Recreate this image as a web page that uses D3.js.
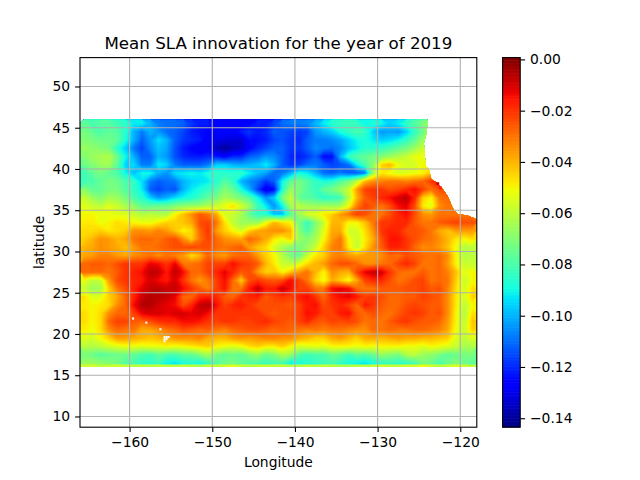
<!DOCTYPE html>
<html><head><meta charset="utf-8"><script src="https://cdnjs.cloudflare.com/ajax/libs/d3/7.8.5/d3.min.js"></script>
<style>html,body{margin:0;padding:0;background:#fff}svg{display:block}text{font-family:"DejaVu Sans",sans-serif;fill:#000}</style></head><body>
<svg id="c" width="640" height="480"></svg>
<script>
const titleText = "Mean SLA innovation for the year of 2019";
const xLabel = "Longitude", yLabel = "latitude";
const xTicks = [-160,-150,-140,-130,-120];
const yTicks = [10,15,20,25,30,35,40,45,50];
const cbTicks = [0,-0.02,-0.04,-0.06,-0.08,-0.10,-0.12,-0.14];
const lonRange = [-166,-118], latRange = [8.7,53.5];
const latTop = 46;
// rows from 45.5N to 16.5N, columns from 165.5W to 118.5W; units of -0.001
const slaRows = [
[76,80,78,78,82,85, 92,92,100,108,110,110,112,118,122,122, 126,128,128,128,126,122,122,116,110,108, 108,106,100,92,86,84,82,84,90,88, 90,96,92,84,78,72,58,58,58,58, 58,58],
[72,76,80,76,78,86, 100,108,100,104,110,112,116,122,124,126, 128,126,128,122,118,122,120,112,114,116, 118,116,104,100,96,88,84,80,84,96, 104,102,104,96,84,74,58,55,55,55, 55,55],
[70,72,74,74,76,88, 100,112,104,94,100,112,118,120,122,128, 130,132,132,134,124,124,122,116,114,118, 120,112,108,108,106,102,96,90,88,92, 96,94,90,84,76,66,54,52,52,52, 52,52],
[66,68,70,72,86,96, 108,116,106,98,102,114,122,126,130,128, 136,140,136,134,126,120,116,112,112,118, 118,112,106,108,110,106,98,92,86,86, 84,80,76,72,66,58,50,50,50,50, 50,50],
[70,66,64,62,74,90, 100,112,112,100,104,114,120,122,122,120, 122,126,120,120,112,110,104,106,112,120, 122,118,112,124,124,100,84,78,76,72, 70,66,62,58,52,52,50,50,50,50, 50,50],
[74,70,66,64,76,96, 94,108,108,92,96,108,112,112,112,108, 96,96,100,102,100,98,92,100,112,118, 116,110,108,112,116,114,110,92,80,68, 44,40,52,56,56,50,48,50,50,50, 50,50],
[82,76,72,76,80,90, 98,90,90,100,104,94,92,90,92,88, 84,86,86,84,92,98,102,110,108,100, 88,92,100,110,112,108,112,112,108,64, 48,52,56,54,52,50,42,38,38,38, 38,38],
[82,80,76,72,74,80, 84,94,108,112,110,108,100,96,94,92, 86,78,84,100,106,110,118,112,90,76, 72,78,84,88,86,78,72,60,40,34, 32,30,30,32,30,28,20,14,24,24, 24,24],
[68,76,76,72,72,78, 84,92,112,116,112,114,100,92,88,84, 80,70,76,88,100,116,130,124,86,66, 72,78,84,76,72,66,58,36,22,20, 20,24,22,18,14,22,30,24,24,24, 24,24],
[58,66,70,64,66,72, 80,86,96,104,100,94,90,88,82,76, 72,64,68,72,78,90,104,96,72,58, 76,78,80,86,84,82,62,40,26,22, 18,14,10,7,18,44,50,30,28,28, 28,28],
[54,58,60,54,58,64, 68,76,76,74,74,70,68,66,66,62, 58,52,46,56,66,82,92,104,90,64, 60,64,66,64,66,64,52,32,22,26, 30,24,14,12,24,48,54,34,30,30, 30,30],
[50,50,52,52,54,54, 58,62,60,62,62,50,42,34,26,30, 38,56,58,64,76,84,86,98,98,78, 66,56,54,48,44,36,30,22,24,30, 30,24,18,14,24,34,36,30,30,30, 30,30],
[48,48,52,50,46,48, 50,52,52,48,44,44,42,38,24,22, 30,46,60,66,66,66,52,40,46,50, 72,84,70,58,40,40,50,50,42,30, 20,20,18,18,26,30,30,26,24,22, 24,24],
[46,46,44,48,46,44, 34,34,36,32,36,42,50,46,28,20, 36,44,50,56,44,38,36,34,34,40, 70,80,68,54,38,38,56,56,46,34, 20,17,18,24,24,26,30,38,42,36, 36,36],
[44,40,34,36,40,38, 30,28,28,30,26,24,34,44,30,22, 28,34,36,38,28,32,38,48,52,44, 66,70,64,50,36,30,50,58,48,38, 24,15,15,20,24,28,30,34,40,48, 50,46],
[40,38,34,36,38,42, 36,30,30,28,26,24,24,22,24,24, 28,30,28,26,36,42,46,56,64,70, 72,66,58,44,32,30,48,60,46,34, 26,17,17,20,28,34,32,36,42,52, 62,60],
[38,36,32,32,36,38, 34,32,30,34,30,32,36,46,40,28, 34,36,30,28,28,36,44,50,62,72, 76,58,48,44,34,32,36,38,36,36, 34,28,30,24,26,28,30,28,34,50, 62,60],
[28,26,26,28,24,20, 20,20,12,14,20,12,30,30,28,22, 22,22,14,20,22,26,40,48,58,60, 54,46,40,36,28,24,24,28,34,34, 30,28,22,18,22,30,30,28,36,50, 58,58],
[28,28,28,30,26,20, 17,14,7,8,16,8,14,28,28,22, 18,12,18,26,24,36,44,42,50,42, 36,30,40,50,34,38,40,22,12,8, 10,20,28,30,30,26,30,28,32,42, 54,50],
[52,60,58,36,24,20, 18,16,10,14,16,10,20,30,36,30, 22,14,28,44,24,20,24,26,24,14, 22,30,44,52,38,44,52,38,22,18, 18,24,30,28,24,22,30,28,30,44, 58,50],
[58,66,64,44,30,24, 17,12,8,7,9,8,14,20,26,32, 22,15,30,30,16,8,16,16,8,14, 22,22,30,30,14,12,14,28,30,30, 26,26,26,24,24,22,26,24,32,46, 56,46],
[46,54,54,44,38,28, 18,9,6,7,8,12,28,28,18,16, 18,26,28,20,18,17,26,22,20,22, 17,14,20,28,18,14,12,16,22,20, 24,28,28,26,26,22,24,26,34,48, 56,44],
[48,50,48,46,34,28, 14,6,6,10,12,14,24,18,8,6, 14,22,18,16,20,24,24,24,24,26, 22,16,14,24,20,18,22,28,16,20, 26,28,28,24,22,24,26,26,34,48, 60,50],
[46,50,46,34,28,28, 22,12,10,10,12,10,10,12,10,14, 20,20,20,20,20,20,24,26,24,24, 22,14,16,22,22,16,14,26,28,24, 28,30,26,22,20,22,26,24,34,50, 62,46],
[46,50,46,28,22,22, 26,28,24,20,18,18,14,14,16,20, 22,20,20,22,22,20,18,22,24,26, 22,18,24,26,22,24,22,24,30,28, 30,26,22,20,24,26,26,28,36,50, 60,42],
[48,52,46,34,28,30, 30,38,38,34,30,28,24,26,28,26, 30,32,28,26,24,24,26,28,26,28, 30,32,30,32,30,30,32,34,34,28, 30,28,30,30,28,28,30,32,38,52, 58,44],
[54,56,50,44,36,36, 38,40,42,40,38,34,34,34,32,38, 40,40,36,34,36,34,32,32,34,34, 38,40,44,44,38,36,40,44,38,38, 40,38,36,38,38,40,40,42,44,54, 60,54],
[60,62,60,56,54,52, 52,54,52,52,50,52,50,48,46,44, 50,52,54,52,46,44,48,48,44,50, 56,54,52,54,50,50,50,52,50,52, 50,50,50,52,52,54,50,52,54,58, 64,62],
[72,74,78,76,74,74, 76,80,82,76,80,80,76,76,70,64, 72,76,74,76,70,66,74,70,62,66, 78,82,80,80,74,76,82,76,78,74, 66,70,72,62,60,66,68,72,76,74, 72,72],
[66,66,68,70,72,78, 80,84,84,82,90,92,88,86,88,82, 78,74,72,76,78,80,82,80,80,90, 88,86,84,82,80,84,88,90,92,88, 84,82,84,84,80,72,74,80,74,70, 74,76]
];
const southEdge = [58,56,60,58,56,58,60,58,60,58,60,60,58,60,62,58,58,56,54,58,60,58,58,58,58,60,60,58,60,58,60,62,62,60,60,58,56,58,58,56,56,52,56,60,58,54,58,60];
const coastLon = [-124,-123.95,-124.1,-124.4,-124.3,-124.2,-123.8,-123.5,-122.7,-122.1,-121.5,-120.9,-120.3,-119.2,-118];
const coastLat = [46,45.8,44.3,43.1,41.9,40.3,40,38.75,38.25,37.5,36.7,35.2,34.5,34.4,33.9];
const holeLon = [-159.7,-158.1,-156.4,-155.9,-155.65,-155.4,-155.9,-155.65,-155.9];
const holeLat = [22,21.5,20.7,19.75,19.75,19.75,19.5,19.5,19.25];
const spotLon = [-122.9,-122.6];
const spotLat = [38.4,37.9];
const spotVal = [-0.008,-0.016];

const svg = d3.select("#c");
const L=80,R=476.8,T=57.6,B=427.2, CL=502.6,CR=520.2;
const x = d3.scaleLinear().domain(lonRange).range([L,R]);
const y = d3.scaleLinear().domain(latRange).range([B,T]);
const vMin=-0.1435, vMax=0.0007;
const norm = d3.scaleLinear().domain([vMin,vMax]).range([0,1]).clamp(true);
const chR = d3.scaleLinear().domain([0,.35,.66,.89,1]).range([0,0,255,255,127.5]);
const chG = d3.scaleLinear().domain([0,.125,.375,.64,.91,1]).range([0,0,255,255,0,0]);
const chB = d3.scaleLinear().domain([0,.11,.34,.65,1]).range([127.5,255,255,0,0]);
const jet = v => { const t=norm(v); return `rgb(${Math.round(chR(t))},${Math.round(chG(t))},${Math.round(chB(t))})`; };

const nRows=slaRows.length,nCols=slaRows[0].length;
const flat = slaRows.flat().map(d=>d/-1000);
const step=0.001;
const thresholds=d3.range(vMin,vMax,step);
const contours=d3.contours().size([nCols,nRows]).smooth(true).thresholds(thresholds)(flat);
const path=d3.geoPath(d3.geoTransform({point(a,b){this.stream.point(x(lonRange[0]+a),y(latTop-b));}}));

const coast=coastLon.map((d,i)=>[d,coastLat[i]]);
const maskPts=[[lonRange[0],latTop],...coast,[lonRange[1],16],[lonRange[0],16]];
const line=d3.line().x(d=>x(d[0])).y(d=>y(d[1]));
svg.append("clipPath").attr("id","m").append("path").attr("d",line(maskPts)+"Z");

const g=svg.append("g").attr("clip-path","url(#m)");
g.selectAll("path").data(contours).join("path").attr("d",path).attr("fill",d=>jet(d.value+step/2));
svg.append("g").selectAll("rect").data(southEdge).join("rect")
  .attr("x",(d,i)=>x(lonRange[0]+i)).attr("y",y(16.3)).attr("width",x(-165)-x(-166)+0.3).attr("height",y(16)-y(16.3)).attr("fill",d=>jet(d/-1000));
svg.append("g").selectAll("rect").data(spotLon).join("rect")
  .attr("x",d=>x(d)).attr("y",(d,i)=>y(spotLat[i])).attr("width",x(-165.65)-x(-166)).attr("height",y(0)-y(0.35)).attr("fill",(d,i)=>jet(spotVal[i]));
svg.append("g").selectAll("rect").data(holeLon).join("rect")
  .attr("x",d=>x(d)).attr("y",(d,i)=>y(holeLat[i])).attr("width",x(-165.75)-x(-166)).attr("height",y(0)-y(0.25)).attr("fill","#fff");

const fs="13.89px";
const gridC="#b0b0b0";
svg.append("g").selectAll("line").data(xTicks).join("line").attr("x1",d=>x(d)).attr("x2",d=>x(d)).attr("y1",T).attr("y2",B).attr("stroke",gridC).attr("stroke-width",1.1);
svg.append("g").selectAll("line").data(yTicks).join("line").attr("y1",d=>y(d)).attr("y2",d=>y(d)).attr("x1",L).attr("x2",R).attr("stroke",gridC).attr("stroke-width",1.1);

const fmt=d=>String(d).replace("-","\u2212");
const sty=s=>{s.select(".domain").remove();s.selectAll("line").attr("stroke","#000").attr("stroke-width",1.1);s.selectAll("text").attr("font-size",fs).attr("font-family",'"DejaVu Sans"');};
svg.append("g").attr("transform",`translate(0,${B})`).call(d3.axisBottom(x).tickValues(xTicks).tickFormat(fmt).tickSize(4.9).tickPadding(4.9)).call(sty);
svg.append("g").attr("transform",`translate(${L},0)`).call(d3.axisLeft(y).tickValues(yTicks).tickFormat(fmt).tickSize(4.9).tickPadding(4.9)).call(sty);
svg.append("rect").attr("x",L).attr("y",T).attr("width",R-L).attr("height",B-T).attr("fill","none").attr("stroke","#000").attr("stroke-width",1.1);

// colourbar
const cy=d3.scaleLinear().domain([vMin,vMax]).range([B,T]);
const cbSteps=d3.range(vMin,vMax,(vMax-vMin)/256);
svg.append("g").selectAll("rect").data(cbSteps).join("rect").attr("x",CL).attr("width",CR-CL)
  .attr("y",d=>cy(d)-(B-T)/256-0.3).attr("height",(B-T)/256+0.6).attr("fill",d=>jet(d+(vMax-vMin)/512));
svg.append("g").attr("transform",`translate(${CR},0)`).call(d3.axisRight(cy).tickValues(cbTicks).tickFormat(d=>fmt(d3.format(".2f")(d))).tickSize(4.9).tickPadding(4.9)).call(sty);
svg.append("rect").attr("x",CL).attr("y",T).attr("width",CR-CL).attr("height",B-T).attr("fill","none").attr("stroke","#000").attr("stroke-width",1.1);

svg.append("text").attr("x",(L+R)/2).attr("y",48.5).attr("text-anchor","middle").attr("font-size","16.67px").text(titleText);
svg.append("text").attr("x",(L+R)/2).attr("y",466.5).attr("text-anchor","middle").attr("font-size",fs).text(xLabel);
svg.append("text").attr("transform",`translate(44,${(T+B)/2}) rotate(-90)`).attr("text-anchor","middle").attr("font-size",fs).text(yLabel);
</script></body></html>
